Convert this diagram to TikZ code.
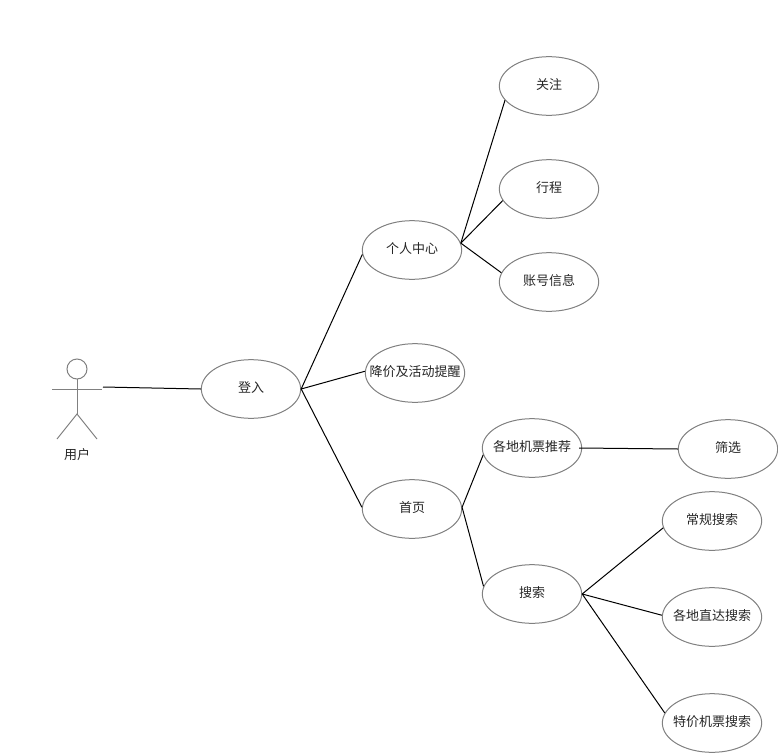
\documentclass[tikz,border=0pt]{standalone}
\usepackage{fontspec}
\setmainfont{Noto Sans CJK SC}
\usetikzlibrary{shapes.geometric}
\definecolor{edgegray}{HTML}{808080}
\begin{document}
\begin{tikzpicture}[x=0.75pt,y=-0.75pt,
    label text/.style={font=\fontsize{9.75pt}{12pt}\selectfont,text=black!85},
    usecase/.style={label text,text height=8pt,text depth=2.6pt,draw=edgegray,ellipse,line width=0.75pt,minimum width=74.5pt,minimum height=44pt,inner xsep=-12pt,inner ysep=0pt},
    link/.style={line width=0.75pt,black},
    actor/.style={line width=0.75pt,edgegray}]
    \useasboundingbox (0,0) rectangle (778,753);
    % stick figure
    \coordinate (head) at (77,369);
    \coordinate (neck) at (77,379);
    \coordinate (hip) at (77,414);
    \coordinate (handl) at (52,389);
    \coordinate (handr) at (102,389);
    \coordinate (footl) at (57,439);
    \coordinate (footr) at (97,439);
    \coordinate (start) at (103,387);
    \draw[actor] (head) circle (10);
    \draw[actor] (neck)--(hip);
    \draw[actor] (handl)--(handr);
    \draw[actor] (footl)--(hip)--(footr);
    \node[label text] (user) at (77,454.5) {用户};
    % use cases
    \node[usecase] (login) at (251,389) {登入};
    \node[usecase] (center) at (412,250) {个人中心};
    \node[usecase] (remind) at (415,373) {降价及活动提醒};
    \node[usecase] (home) at (412,509) {首页};
    \node[usecase] (follow) at (549,86) {关注};
    \node[usecase] (trip) at (549,189) {行程};
    \node[usecase] (account) at (549,282) {账号信息};
    \node[usecase] (recommend) at (532,448) {各地机票推荐};
    \node[usecase] (search) at (532,594) {搜索};
    \node[usecase] (filter) at (728,449) {筛选};
    \node[usecase] (normal) at (712,521) {常规搜索};
    \node[usecase] (direct) at (712,617) {各地直达搜索};
    \node[usecase] (special) at (712,723) {特价机票搜索};
    % connectors
    \draw[link] (start)--(login.west);
    \draw[link] (login.east)--(center.185);
    \draw[link] (login.east)--(remind.178);
    \draw[link] (login.east)--(home.178);
    \draw[link] (center.8)--(follow.198);
    \draw[link] (center.8)--(trip.194);
    \draw[link] (center.8)--(account.169);
    \draw[link] (home.2)--(recommend.188);
    \draw[link] (home.2)--(search.171);
    \draw[link] ([xshift=-2.25pt]recommend.east)--(filter.west);
    \draw[link] (search.east)--(normal.188);
    \draw[link] (search.east)--(direct.178);
    \draw[link] (search.east)--(special.168);
\end{tikzpicture}
\end{document}
